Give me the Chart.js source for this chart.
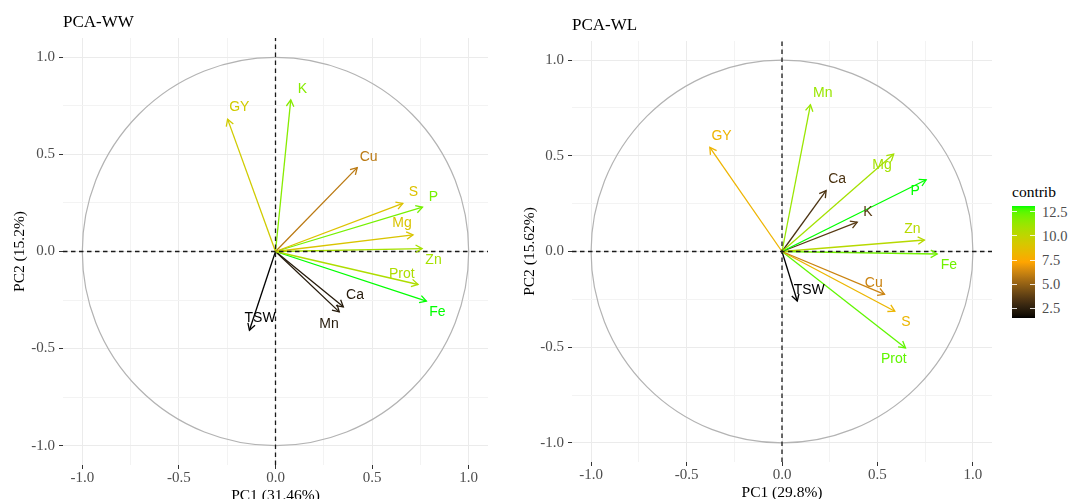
<!DOCTYPE html>
<html>
<head>
<meta charset="utf-8">
<script src="https://cdn.jsdelivr.net/npm/chart.js@4.4.1/dist/chart.umd.min.js"></script>
<style>
  html, body { margin:0; padding:0; background:#fff; overflow:hidden; width:1070px; height:499px; }
  #wrap { position:relative; width:1070px; height:499px; overflow:hidden; }
  canvas { position:absolute; top:0; }
  .ptitle { position:absolute; font-family:"Liberation Serif", serif; font-size:17px; line-height:17px; color:#000; white-space:nowrap; }
  .legTitle { position:absolute; font-family:"Liberation Serif", serif; font-size:15.5px; line-height:15.5px; color:#000; white-space:nowrap; }
  .legLab { position:absolute; font-family:"Liberation Serif", serif; font-size:14.5px; line-height:14.5px; color:#4D4D4D; white-space:nowrap; }
  .legTick { position:absolute; height:1px; background:rgba(255,255,255,0.85); }
  #bar { position:absolute; }
</style>
</head>
<body>
<div id="wrap">
  <canvas id="cWW" width="500" height="520" style="left:0px"></canvas>
  <canvas id="cWL" width="500" height="520" style="left:500px"></canvas>
  <div class="ptitle" id="tWW" style="left:63px; top:13px;"></div>
  <div class="ptitle" id="tWL" style="left:572px; top:16px;"></div>
  <div class="legTitle" id="legTitle" style="left:1012px; top:183.5px;"></div>
  <div id="bar"></div>
</div>
<script>
// ---------------- data ----------------
const varsWW    = ['GY','K','Cu','S','P','Mg','Zn','Prot','Fe','Ca','Mn','TSW'];
const pc1WW     = [-0.248, 0.079, 0.423, 0.659, 0.761, 0.712, 0.759, 0.738, 0.781, 0.351, 0.330, -0.135];
const pc2WW     = [ 0.682, 0.781, 0.432, 0.248, 0.228, 0.086, 0.015, -0.170, -0.256, -0.285, -0.311, -0.406];
const contribWW = [ 9.3, 11.0, 6.6, 8.9, 11.3, 9.0, 10.4, 10.2, 12.1, 3.9, 3.9, 3.3];

const varsWL    = ['Mn','GY','Mg','P','Ca','K','Zn','Fe','Cu','S','Prot','TSW'];
const pc1WL     = [0.149, -0.378, 0.585, 0.755, 0.231, 0.394, 0.746, 0.813, 0.537, 0.591, 0.647, 0.080];
const pc2WL     = [0.767,  0.544, 0.509, 0.375, 0.318, 0.153, 0.060, -0.013, -0.224, -0.312, -0.504, -0.259];
const contribWL = [11.2, 8.1, 10.9, 13.1, 3.3, 3.6, 10.3, 12.1, 6.2, 8.2, 12.4, 1.5];

const titleWW = 'PCA-WW', titleWL = 'PCA-WL';
const xTitleWW = 'PC1 (31.46%)', yTitleWW = 'PC2 (15.2%)';
const xTitleWL = 'PC1 (29.8%)',  yTitleWL = 'PC2 (15.62%)';

const tickVals = [-1, -0.75, -0.5, -0.25, 0, 0.25, 0.5, 0.75, 1];
const axisLimits = [-1.1, 1.1];
const circleRadius = 1;
const legendBreaks = [2.5, 5.0, 7.5, 10.0, 12.5];
const legendTitle = 'contrib';

// label offsets (pixels, styling only)
const offWW = [[11.7,-12],[11.6,-10.7],[11.4,-11],[10.7,-11],[11,-10.3],[-11,-12],[11.4,12],[-16.3,-10.6],[11,11],[11.7,-11.4],[-10.3,12.6],[10.7,-12]];
const offWL = [[12.3,-11.7],[11.7,-11],[-11.6,11],[-11,11.3],[11,-11.4],[10.6,-10],[-12,-11],[11.6,11],[-10.7,-11],[11,10.7],[-11.7,11.6],[12,-11]];

// ---------------- colour scale (black -> orange -> green, Lab interpolation) ----------------
const gradCols = ['#000000', '#FFA500', '#00FF00'];
function hexToRgb(h){ h=h.replace('#',''); return [parseInt(h.substr(0,2),16),parseInt(h.substr(2,2),16),parseInt(h.substr(4,2),16)]; }
function s2l(c){ c/=255; return c<=0.04045? c/12.92 : Math.pow((c+0.055)/1.055,2.4); }
function l2s(c){ c = c<=0.0031308? 12.92*c : 1.055*Math.pow(c,1/2.4)-0.055; return Math.round(Math.max(0,Math.min(1,c))*255); }
function rgbToLab(rgb){
  const R=s2l(rgb[0]), G=s2l(rgb[1]), B=s2l(rgb[2]);
  const X=(0.4124*R+0.3576*G+0.1805*B)/0.95047, Y=(0.2126*R+0.7152*G+0.0722*B), Z=(0.0193*R+0.1192*G+0.9505*B)/1.08883;
  const f=t=> t>0.008856? Math.cbrt(t) : 7.787*t+16/116;
  const fx=f(X), fy=f(Y), fz=f(Z);
  return [116*fy-16, 500*(fx-fy), 200*(fy-fz)];
}
function labToRgb(lab){
  const fy=(lab[0]+16)/116, fx=fy+lab[1]/500, fz=fy-lab[2]/200;
  const inv=t=> t*t*t>0.008856? t*t*t : (t-16/116)/7.787;
  const X=inv(fx)*0.95047, Y=inv(fy), Z=inv(fz)*1.08883;
  const R= 3.2406*X-1.5372*Y-0.4986*Z, G=-0.9689*X+1.8758*Y+0.0415*Z, B=0.0557*X-0.2040*Y+1.0570*Z;
  return [l2s(R), l2s(G), l2s(B)];
}
const gradLab = gradCols.map(c=>rgbToLab(hexToRgb(c)));
function colorAt(t){
  t=Math.max(0,Math.min(1,t));
  const n=gradLab.length-1; let seg=Math.min(n-1, Math.floor(t*n)); const u=t*n-seg;
  const a=gradLab[seg], b=gradLab[seg+1];
  const rgb=labToRgb([a[0]+(b[0]-a[0])*u, a[1]+(b[1]-a[1])*u, a[2]+(b[2]-a[2])*u]);
  return 'rgb('+rgb.join(',')+')';
}

// ---------------- plugins ----------------
const circlePlugin = {
  id:'corCircle',
  beforeDatasetsDraw(chart){
    const {ctx, scales:{x,y}} = chart;
    const cx=x.getPixelForValue(0), cy=y.getPixelForValue(0);
    const rx=x.getPixelForValue(circleRadius)-cx, ry=cy-y.getPixelForValue(circleRadius);
    ctx.save(); ctx.strokeStyle='#B3B3B3'; ctx.lineWidth=1.2;
    ctx.beginPath(); ctx.ellipse(cx,cy,rx,ry,0,0,Math.PI*2); ctx.stroke(); ctx.restore();
  }
};
const arrowPlugin = {
  id:'arrowHeads',
  afterDatasetsDraw(chart){
    const ctx=chart.ctx;
    chart.data.datasets.forEach((ds,i)=>{
      if(!ds.varLabel) return;
      const meta=chart.getDatasetMeta(i);
      const p0=meta.data[0], p1=meta.data[1];
      const ang=Math.atan2(p1.y-p0.y, p1.x-p0.x);
      const L=7.5, A=Math.PI/6;
      ctx.save();
      ctx.strokeStyle=ds.borderColor; ctx.lineWidth=1.3; ctx.lineCap='butt'; ctx.lineJoin='miter';
      ctx.beginPath();
      ctx.moveTo(p1.x-L*Math.cos(ang-A), p1.y-L*Math.sin(ang-A));
      ctx.lineTo(p1.x, p1.y);
      ctx.lineTo(p1.x-L*Math.cos(ang+A), p1.y-L*Math.sin(ang+A));
      ctx.stroke();
      ctx.fillStyle=ds.borderColor;
      ctx.font='14px "Liberation Sans", Arial, sans-serif';
      ctx.textAlign='center'; ctx.textBaseline='middle';
      ctx.fillText(ds.varLabel, p1.x+ds.labelOff[0], p1.y+ds.labelOff[1]);
      ctx.restore();
    });
  }
};

const isMajor = v => Math.abs(v*2-Math.round(v*2))<1e-9;
const serif = '"Liberation Serif", "Times New Roman", serif';

function buildChart(id, names, pc1, pc2, contrib, offs, xTitle, yTitle, geom){
  const cmin=Math.min(...contrib), cmax=Math.max(...contrib);
  const datasets=[];
  const dashStyle={showLine:true, borderColor:'#1a1a1a', borderWidth:1.3, borderDash:[4.5,3.5], pointRadius:0, fill:false};
  datasets.push(Object.assign({data:[{x:axisLimits[0],y:0},{x:axisLimits[1],y:0}]}, dashStyle));
  datasets.push(Object.assign({data:[{x:0,y:axisLimits[0]},{x:0,y:axisLimits[1]}]}, dashStyle));
  names.forEach((n,i)=>{
    datasets.push({
      varLabel:n, labelOff:offs[i],
      data:[{x:0,y:0},{x:pc1[i],y:pc2[i]}],
      showLine:true, borderColor:colorAt((contrib[i]-cmin)/(cmax-cmin)), borderWidth:1.3,
      pointRadius:0, fill:false, borderCapStyle:'butt'
    });
  });
  const gridCol = c => (c.tick && isMajor(c.tick.value)) ? '#EBEBEB' : '#F3F3F3';
  const tickCol = c => (c.tick && isMajor(c.tick.value)) ? '#333333' : 'rgba(0,0,0,0)';
  const tickFont = {family:serif, size:15, lineHeight:1.15};
  const titleFont = {family:serif, size:15.5, lineHeight:1.2};
  return new Chart(document.getElementById(id), {
    type:'scatter',
    data:{datasets},
    options:{
      responsive:false, animation:false, devicePixelRatio:1, events:[],
      layout:{padding:geom.pad},
      plugins:{legend:{display:false}, tooltip:{enabled:false}},
      scales:{
        x:{
          type:'linear', min:axisLimits[0], max:axisLimits[1],
          afterBuildTicks:s=>{ s.ticks=tickVals.map(v=>({value:v})); },
          afterFit:s=>{ s.height=geom.xH; },
          grid:{color:gridCol, lineWidth:1, tickColor:tickCol, tickLength:4, tickWidth:1},
          border:{display:false},
          ticks:{autoSkip:false, maxRotation:0, minRotation:0, padding:0, color:'#4D4D4D', font:tickFont,
                 callback:v=> isMajor(v)? v.toFixed(1) : ''},
          title:{display:true, text:xTitle, color:'#000', font:titleFont, padding:{top:0,bottom:geom.xTitlePad}}
        },
        y:{
          type:'linear', min:axisLimits[0], max:axisLimits[1],
          afterBuildTicks:s=>{ s.ticks=tickVals.map(v=>({value:v})); },
          afterFit:s=>{ s.width=geom.yW; },
          grid:{color:gridCol, lineWidth:1, tickColor:tickCol, tickLength:4, tickWidth:1},
          border:{display:false},
          ticks:{autoSkip:false, padding:4, color:'#4D4D4D', font:tickFont,
                 callback:v=> isMajor(v)? v.toFixed(1) : ''},
          title:{display:true, text:yTitle, color:'#000', font:titleFont, padding:{top:geom.yTitlePad,bottom:0}}
        }
      }
    },
    plugins:[circlePlugin, arrowPlugin]
  });
}

document.getElementById('tWW').textContent = titleWW;
document.getElementById('tWL').textContent = titleWL;

buildChart('cWW', varsWW, pc1WW, pc2WW, contribWW, offWW, xTitleWW, yTitleWW,
  {pad:{top:38,left:0,right:12,bottom:0}, xH:55, yW:63, xTitlePad:15, yTitlePad:10.7});
buildChart('cWL', varsWL, pc1WL, pc2WL, contribWL, offWL, xTitleWL, yTitleWL,
  {pad:{top:41,left:0,right:8,bottom:0}, xH:58, yW:72, xTitlePad:18, yTitlePad:20.7});

// ---------------- legend (colourbar for the WL panel) ----------------
(function(){
  const wrap=document.getElementById('wrap');
  document.getElementById('legTitle').textContent = legendTitle;
  const lmin=Math.min(...contribWL), lmax=Math.max(...contribWL);
  const barL=1012, barT=206, barW=23, barH=112;
  const bar=document.getElementById('bar');
  const stops=[];
  for(let k=0;k<=40;k++){ const t=k/40; stops.push(colorAt(t)+' '+(t*100).toFixed(1)+'%'); }
  Object.assign(bar.style,{left:barL+'px', top:barT+'px', width:barW+'px', height:barH+'px',
    background:'linear-gradient(to top,'+stops.join(',')+')'});
  legendBreaks.forEach(v=>{
    const yy=barT+barH-(v-lmin)/(lmax-lmin)*barH;
    const lab=document.createElement('div'); lab.className='legLab';
    lab.textContent=v.toFixed(1); lab.style.left='1042px'; lab.style.top=(yy-7.25)+'px';
    wrap.appendChild(lab);
    [barL, barL+barW-4.6].forEach(xx=>{
      const tk=document.createElement('div'); tk.className='legTick';
      tk.style.left=xx+'px'; tk.style.top=(yy-0.5)+'px'; tk.style.width='4.6px';
      wrap.appendChild(tk);
    });
  });
})();
</script>
</body>
</html>
